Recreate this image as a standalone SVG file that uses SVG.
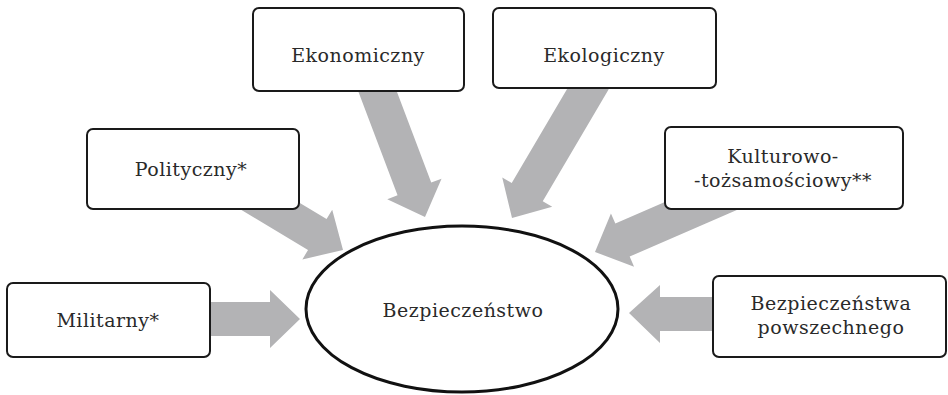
<svg xmlns="http://www.w3.org/2000/svg" width="948" height="395" viewBox="0 0 948 395">
<style>
.box{fill:#fff;stroke:#1a1a1a;stroke-width:2}
.arr{fill:#b3b3b5}
text{font-family:'DejaVu Serif',serif;font-size:19px;fill:#2a2a2a;text-anchor:middle;letter-spacing:0.5px}
</style>
<defs>
<polygon id="arrowShape" points="-160,-18 -30,-18 -30,-29 0,0 -30,29 -30,18 -160,18"/>
</defs>
<rect width="948" height="395" fill="#fff"/>
<g id="connectors">
<polygon class="arr" points="210,302 270,302 270,290 300,319 270,348 270,336 210,336"/>
<polygon class="arr" points="713,297 660,297 660,285 629,313 660,343 660,331 713,331"/>
<use href="#arrowShape" class="arr" transform="translate(343,250) rotate(31)"/>
<use href="#arrowShape" class="arr" transform="translate(425,217) rotate(69.3)"/>
<use href="#arrowShape" class="arr" transform="translate(512,218) rotate(120.5)"/>
<use href="#arrowShape" class="arr" transform="translate(595,252) rotate(156.5)"/>
</g>
<g id="n-militarny">
<rect class="box" x="7" y="283" width="203" height="74" rx="6"/>
<text x="108" y="327">Militarny*</text>
</g>
<g id="n-polityczny">
<rect class="box" x="87" y="129" width="212" height="80" rx="6"/>
<text x="191" y="176">Polityczny*</text>
</g>
<g id="n-ekonomiczny">
<rect class="box" x="253" y="8" width="211" height="83" rx="6"/>
<text x="358" y="62">Ekonomiczny</text>
</g>
<g id="n-ekologiczny">
<rect class="box" x="493" y="8" width="223" height="80" rx="6"/>
<text x="604" y="62">Ekologiczny</text>
</g>
<g id="n-kulturowo">
<rect class="box" x="665" y="127" width="238" height="82" rx="6"/>
<text x="783" y="163">Kulturowo-</text>
<text x="783" y="187">-tożsamościowy**</text>
</g>
<g id="n-powszechnego">
<rect class="box" x="713" y="276" width="233" height="81" rx="6"/>
<text x="831" y="310">Bezpieczeństwa</text>
<text x="831" y="334">powszechnego</text>
</g>
<g id="n-bezpieczenstwo">
<ellipse cx="462" cy="309" rx="156" ry="83" fill="#fff" stroke="#111" stroke-width="3"/>
<text x="463" y="317">Bezpieczeństwo</text>
</g>
</svg>
